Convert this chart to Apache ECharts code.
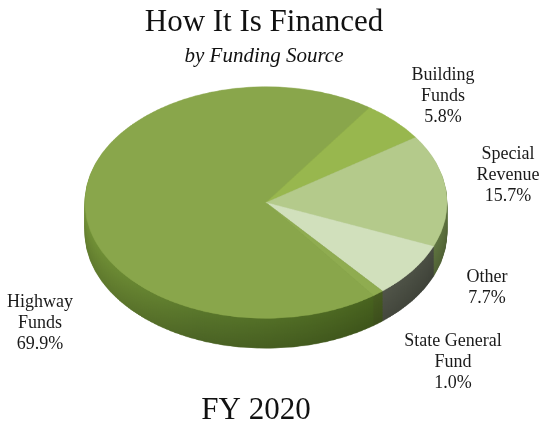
<!DOCTYPE html>
<html>
<head>
<meta charset="utf-8">
<script src="https://cdn.jsdelivr.net/npm/echarts@6/dist/echarts.min.js"></script>
<style>
  html, body { margin: 0; padding: 0; background: #fff; overflow: hidden; }
  #stage { position: relative; width: 542px; height: 425px; }
  #pie { position: absolute; left: 0; top: 0; width: 542px; transform-origin: 0 0; }
  #text { position: absolute; left: 0; top: 0; width: 542px; height: 425px; }
</style>
</head>
<body>
<div id="stage">
  <div id="pie"></div>
  <div id="text"></div>
</div>
<script>
// Funding sources and their share of the FY 2020 budget (percent)
const sources = ['Highway Funds', 'Building Funds', 'Special Revenue', 'Other', 'State General Fund'];
const shares = [69.9, 5.8, 15.7, 7.7, 1.0];
const labelLines = [['Highway', 'Funds'], ['Building', 'Funds'], ['Special', 'Revenue'], ['Other'], ['State General', 'Fund']];
const titleText = 'How It Is Financed';
const subtitleText = 'by Funding Source';
const yearText = 'FY 2020';

// Slice colours: top face and side wall (left, middle, right of the wall)
const topColors = ['#89a64b', '#98b74e', '#b4ca8b', '#d1e0bc', '#8fac50'];
const sideColors = [
  ['#6f8d35', '#56722a', '#46601e'],
  ['#6f8c36', '#5f7a2c', '#50681f'],
  ['#7d9458', '#6c8249', '#5a6e3c'],
  ['#60665a', '#55594d', '#474b40'],
  ['#56702a', '#4d6424', '#44581f']
];

// Tilted-disc geometry: the pie is drawn round, then squashed vertically
const TILT = 0.64;
const CX = 266, CY = 202.5, R = 181, DEPTH = 30, LAYERS = 36;

const pieEl = document.getElementById('pie');
pieEl.style.height = (425 / TILT) + 'px';
pieEl.style.transform = 'scaleY(' + TILT + ')';

function shade(hex, f) {
  const n = parseInt(hex.slice(1), 16);
  const r = Math.round(((n >> 16) & 255) * f);
  const g = Math.round(((n >> 8) & 255) * f);
  const b = Math.round((n & 255) * f);
  return 'rgb(' + r + ',' + g + ',' + b + ')';
}

function pieLayer(cy, colorOf, z) {
  return {
    type: 'pie',
    silent: true,
    animation: false,
    startAngle: 306.5,
    clockwise: true,
    center: [CX, cy],
    radius: [0, R],
    z: z,
    label: { show: false },
    labelLine: { show: false },
    emphasis: { disabled: true },
    data: sources.map((name, i) => {
      const c = colorOf(i);
      return { name: name, value: shares[i], itemStyle: { color: c, borderColor: c, borderWidth: 0.6 } };
    })
  };
}

const series = [];
// side wall: stacked discs from the bottom up, slightly darker toward the base
for (let k = LAYERS; k >= 1; k--) {
  const off = (DEPTH / TILT) * k / LAYERS;
  const f = 1.04 - 0.16 * (k / LAYERS);
  series.push(pieLayer(CY / TILT + off, i => new echarts.graphic.LinearGradient(0, 0, 1, 0, [
    { offset: 0, color: shade(sideColors[i][0], f) },
    { offset: 0.4, color: shade(sideColors[i][1], f) },
    { offset: 1, color: shade(sideColors[i][2], f) }
  ]), 1));
}
// top face
series.push(pieLayer(CY / TILT, i => topColors[i], 2));

const pieChart = echarts.init(pieEl, null, { renderer: 'canvas' });
pieChart.setOption({ animation: false, series: series });

// Titles and slice labels
const serif = '"Liberation Serif", "Times New Roman", serif';
const labelPos = [[40, 323], [443, 96], [508, 175], [487, 288], [453, 362]];
const graphics = [
  { type: 'text', x: 264, y: 23, style: { text: titleText, font: '31px ' + serif, fill: '#111', align: 'center', verticalAlign: 'middle' } },
  { type: 'text', x: 264, y: 56, style: { text: subtitleText, font: 'italic 21px ' + serif, fill: '#111', align: 'center', verticalAlign: 'middle' } },
  { type: 'text', x: 256, y: 411, style: { text: yearText, font: '31px ' + serif, fill: '#111', align: 'center', verticalAlign: 'middle' } }
];
sources.forEach((name, i) => {
  const text = labelLines[i].concat([shares[i].toFixed(1) + '%']).join('\n');
  graphics.push({
    type: 'text', x: labelPos[i][0], y: labelPos[i][1],
    style: { text: text, font: '18px ' + serif, lineHeight: 21, fill: '#1a1a1a', align: 'center', verticalAlign: 'middle' }
  });
});

const textChart = echarts.init(document.getElementById('text'), null, { renderer: 'canvas' });
textChart.setOption({ animation: false, graphic: graphics });
</script>
</body>
</html>
